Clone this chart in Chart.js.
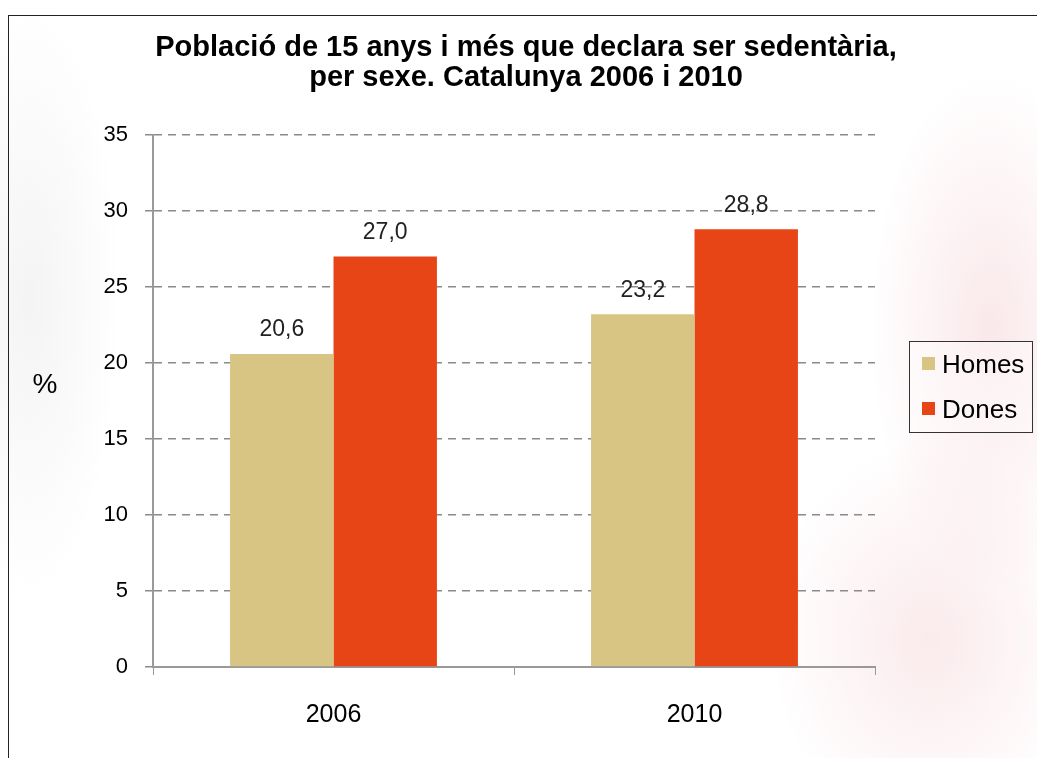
<!DOCTYPE html>
<html>
<head>
<meta charset="utf-8">
<script src="https://cdn.jsdelivr.net/npm/chart.js@4/dist/chart.umd.min.js"></script>
<style>
  html, body { margin: 0; padding: 0; }
  body {
    width: 1037px; height: 758px; overflow: hidden; position: relative;
    font-family: "Liberation Sans", Arial, sans-serif;
    background:
      radial-gradient(ellipse 120px 260px at 990px 330px, rgba(232,150,160,0.22), rgba(255,255,255,0) 100%),
      radial-gradient(ellipse 160px 200px at 930px 640px, rgba(232,150,160,0.20), rgba(255,255,255,0) 100%),
      radial-gradient(ellipse 90px 300px at 30px 300px, rgba(180,180,180,0.15), rgba(255,255,255,0) 100%),
      #fff;
  }
  .frame {
    position: absolute; left: 8px; top: 15px; width: 1040px; height: 760px;
    border: 1px solid #222; box-sizing: border-box;
  }
  canvas { position: absolute; left: 0; top: 0; }
  .legend {
    position: absolute; left: 909px; top: 341px; width: 124px; height: 92px;
    border: 1px solid #333; box-sizing: border-box;
    background: rgba(255,255,255,0.35);
  }
  .legend div {
    position: absolute; left: 12px; font-size: 26px; line-height: 28px; color: #000; white-space: nowrap;
  }
  .legend span {
    display: inline-block; width: 13px; height: 13px; margin-right: 7px; vertical-align: 3px;
  }
</style>
</head>
<body>
<div class="frame"></div>
<canvas id="myChart" width="1037" height="758"></canvas>
<div class="legend" id="legend"></div>
<script>
const $ = document.querySelector.bind(document);

const years = [`2006`, `2010`];
const homes = [20.6, 23.2];
const dones = [27.0, 28.8];
const yTicks = [0, 5, 10, 15, 20, 25, 30, 35];
const seriesNames = [`Homes`, `Dones`];
const seriesColors = [`#d8c483`, `#e84516`];
const titleLines = [`Població de 15 anys i més que declara ser sedentària,`, `per sexe. Catalunya 2006 i 2010`];

const fontFamily = `"Liberation Sans", Arial, sans-serif`;

// value labels above each bar, with comma decimals
const valueLabels = {
  id: `valueLabels`,
  afterDatasetsDraw(chart) {
    const ctx = chart.ctx;
    ctx.save();
    ctx.font = `23px ${fontFamily}`;
    ctx.fillStyle = `#222`;
    ctx.textAlign = `center`;
    ctx.textBaseline = `middle`;
    chart.data.datasets.forEach((ds, i) => {
      chart.getDatasetMeta(i).data.forEach((bar, j) => {
        ctx.fillText(ds.data[j].toFixed(1).replace(`.`, `,`), bar.x, bar.y - 24);
      });
    });
    ctx.restore();
  }
};

// title and upright "%" axis title
const extraText = {
  id: `extraText`,
  afterDraw(chart) {
    const ctx = chart.ctx;
    ctx.save();
    ctx.fillStyle = `#000`;
    ctx.textAlign = `center`;
    ctx.textBaseline = `middle`;
    ctx.font = `bold 29px ${fontFamily}`;
    titleLines.forEach((t, i) => ctx.fillText(t, 526, 48 + i * 30));
    ctx.font = `28px ${fontFamily}`;
    ctx.fillText(`%`, 45, 385);
    ctx.restore();
  }
};

const chart = new Chart($(`#myChart`).getContext(`2d`), {
  type: `bar`,
  data: {
    labels: years,
    datasets: [
      { label: seriesNames[0], data: homes, backgroundColor: seriesColors[0] },
      { label: seriesNames[1], data: dones, backgroundColor: seriesColors[1] }
    ]
  },
  options: {
    responsive: false,
    animation: false,
    categoryPercentage: 0.573,
    barPercentage: 1,
    layout: { padding: { left: 0, right: 162, top: 135, bottom: 3 } },
    plugins: {
      legend: { display: false },
      tooltip: { enabled: false },
      title: { display: false }
    },
    scales: {
      x: {
        afterFit: (scale) => { scale.height = 88; },
        grid: { drawOnChartArea: false, drawTicks: true, tickLength: 8, color: `#999` },
        border: { display: true, color: `#999`, width: 2 },
        ticks: { color: `#000`, padding: 25, font: { family: fontFamily, size: 25 } }
      },
      y: {
        min: 0,
        max: 35,
        afterBuildTicks: (scale) => { scale.ticks = yTicks.map(v => ({ value: v })); },
        afterFit: (scale) => { scale.width = 153; },
        grid: { color: `#8a8a8a`, lineWidth: 1.5, tickLength: 8 },
        border: { display: true, color: `#999`, width: 2, dash: [8, 6] },
        ticks: { color: `#000`, padding: 17, font: { family: fontFamily, size: 22 } }
      }
    }
  },
  plugins: [valueLabels, extraText]
});

// html legend built from the datasets
const legend = $(`#legend`);
chart.data.datasets.forEach((ds, i) => {
  legend.innerHTML += `<div style="top:${8 + i * 45}px"><span style="background:${ds.backgroundColor}"></span>${ds.label}</div>`;
});
</script>
</body>
</html>
